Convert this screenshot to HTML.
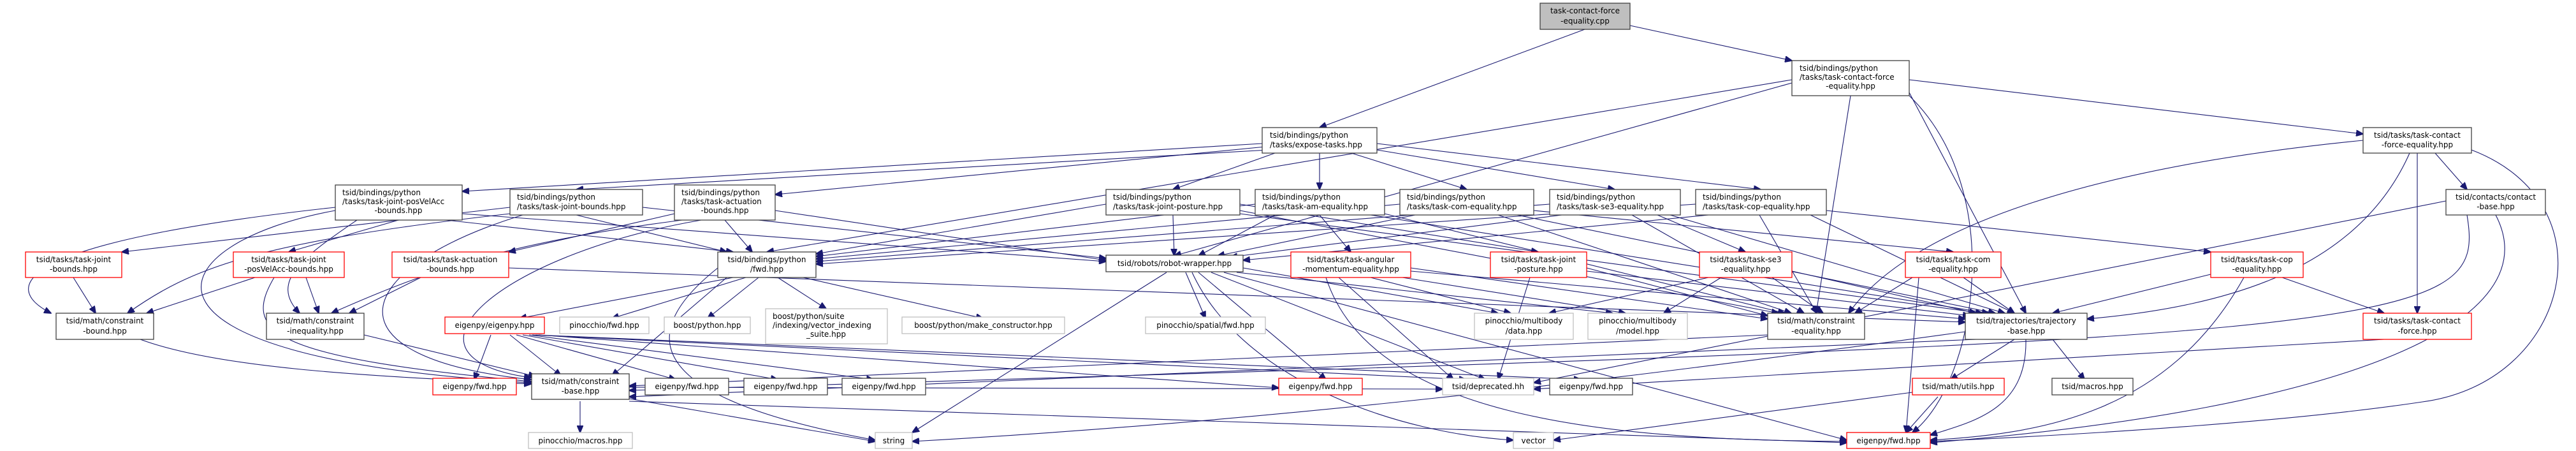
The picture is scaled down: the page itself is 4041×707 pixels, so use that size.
<!DOCTYPE html>
<html><head><meta charset="utf-8"><style>
html,body{margin:0;padding:0;background:#fff;}
svg{display:block;}
text{font-family:"DejaVu Sans","Liberation Sans",sans-serif;font-size:12px;fill:#000;}
.b{fill:#fff;stroke:#404040;stroke-width:1.3;}
.r{fill:#fff;stroke:#ff0000;stroke-width:1.3;}
.g{fill:#fff;stroke:#bfbfbf;stroke-width:1.3;}
.t{fill:#bfbfbf;stroke:#404040;stroke-width:1.3;}
path{fill:none;stroke:#191970;stroke-width:1.1;}
</style></head><body>
<svg width="4041" height="707" viewBox="0 0 4041 707" xmlns="http://www.w3.org/2000/svg">
<defs><marker id="a" markerWidth="12" markerHeight="10" refX="11" refY="5" orient="auto" markerUnits="userSpaceOnUse"><polygon points="0,0 12,5 0,10" fill="#191970" stroke="#191970"/></marker></defs>
<g marker-end="url(#a)">
<path d="M2486,46 L2070,200"/><path d="M2557,40 L2811,95"/>
<path d="M2811,125 L1203,395"/><path d="M2811,130 L1842,401"/><path d="M2995,125 L3707,210"/><path d="M2903,150 L2849,491"/><path d="M2995,145 L3178,491"/><path d="M2995,150 C3150,300 3100,600 3000,678"/>
<path d="M1980,225 L725,300"/><path d="M1990,235 L904,297"/><path d="M1985,230 L1216,305"/><path d="M2000,240 L1840,297"/><path d="M2070,240 L2070,297"/><path d="M2120,240 L2301,297"/><path d="M2160,235 L2533,297"/><path d="M2160,225 L2762,297"/>
<path d="M625,345 L453,395"/><path d="M700,345 L1150,395"/><path d="M725,335 L1735,410"/><path d="M526,325 C20,380 0,450 80,491"/><path d="M560,345 C480,400 420,440 470,491"/><path d="M526,330 C250,380 150,560 833,600"/>
<path d="M800,325 L191,395"/><path d="M904,337 L1140,395"/><path d="M1008,325 L1735,405"/><path d="M800,335 C400,380 300,420 200,491"/><path d="M820,337 C550,420 500,560 833,595"/>
<path d="M1058,335 L798,395"/><path d="M1137,345 L1180,395"/><path d="M1216,330 L1735,408"/><path d="M1070,345 C800,380 680,420 520,491"/><path d="M1100,345 C780,400 600,560 833,592"/>
<path d="M1945,320 L2413,395"/><path d="M1735,320 L1280,398"/><path d="M1840,337 L1842,401"/><path d="M1945,330 L2790,491"/><path d="M1945,335 L3110,491"/>
<path d="M2070,337 L2119,395"/><path d="M1969,320 L1280,402"/><path d="M2000,337 L1880,401"/><path d="M2172,335 L2800,491"/><path d="M2150,337 L3120,491"/>
<path d="M2406,330 L3064,395"/><path d="M2196,320 L1280,406"/><path d="M2220,337 L1910,401"/><path d="M2350,337 L2810,491"/><path d="M2380,337 L3130,491"/>
<path d="M2600,337 L2738,395"/><path d="M2431,320 L1280,410"/><path d="M2450,337 L1930,403"/><path d="M2560,337 L2830,491"/><path d="M2620,337 L3145,491"/>
<path d="M2865,330 L3468,395"/><path d="M2660,320 L1280,414"/><path d="M2680,337 L1950,408"/><path d="M2760,337 L2850,491"/><path d="M2840,337 L3160,491"/>
<path d="M115,435 L150,491"/><path d="M400,435 L230,491"/><path d="M480,435 L500,491"/><path d="M430,435 C380,520 420,560 833,598"/><path d="M660,435 L548,491"/><path d="M798,420 L3083,505"/>
<path d="M220,532 C350,580 600,590 833,602"/><path d="M571,525 L840,590"/><path d="M2773,525 L987,605"/>
<path d="M1150,435 L815,499"/><path d="M1170,435 L960,499"/><path d="M1190,435 L1110,499"/><path d="M1220,435 L1296,484"/><path d="M1260,435 L1542,499"/><path d="M1126,420 C950,560 1100,640 1373,690"/><path d="M1140,435 L960,589"/>
<path d="M770,525 L744,595"/><path d="M810,525 L1060,595"/><path d="M820,525 L1220,595"/><path d="M830,525 L1370,595"/><path d="M840,525 L2480,595"/><path d="M835,525 L2300,595"/><path d="M845,525 L2006,608"/><path d="M800,525 L880,589"/>
<path d="M1860,427 L1891,499"/><path d="M1830,427 L1431,678"/><path d="M1950,420 L2350,491"/><path d="M1940,427 L2530,491"/><path d="M1900,427 L2330,595"/><path d="M1920,427 L2897,690"/><path d="M1880,427 L2080,595"/><path d="M1870,427 C1950,600 2200,680 2374,690"/>
<path d="M2150,435 L2370,491"/><path d="M2200,435 L2550,491"/><path d="M2213,420 L2773,500"/><path d="M2213,425 L3083,500"/><path d="M2100,435 L2280,595"/><path d="M2080,435 C2150,650 2500,690 2897,692"/>
<path d="M2489,420 L2773,495"/><path d="M2489,425 L3090,495"/><path d="M2400,435 L2350,595"/>
<path d="M2680,435 L2430,491"/><path d="M2700,435 L2610,491"/><path d="M2780,435 L2860,491"/><path d="M2811,425 L3100,491"/>
<path d="M3000,435 L2910,491"/><path d="M3080,435 L3160,491"/><path d="M3010,435 L2990,678"/>
<path d="M3468,430 L3220,491"/><path d="M3580,435 L3740,491"/><path d="M3520,435 C3400,650 3200,680 3028,690"/>
<path d="M3820,240 L3870,297"/><path d="M3792,240 L3792,491"/><path d="M3780,240 C3700,420 3500,480 3274,500"/><path d="M3707,220 C3300,260 3000,350 2900,491"/><path d="M3877,235 C4100,320 4030,600 3800,630 C3600,660 3300,680 3028,692"/>
<path d="M3915,337 C4000,500 3700,640 3028,694"/><path d="M3837,315 L2406,600"/><path d="M3870,337 C3900,520 3800,530 987,612"/><path d="M3740,532 L2406,610"/>
<path d="M3160,532 L3060,595"/><path d="M3220,532 L3270,595"/><path d="M3178,532 C3180,640 3100,660 3028,682"/><path d="M3083,520 C2500,600 2000,660 1431,692"/><path d="M3100,532 L987,622"/>
<path d="M3040,622 L2990,678"/><path d="M3000,615 L2437,690"/>
<path d="M910,629 L910,678"/><path d="M987,625 L1373,692"/><path d="M987,629 L2897,694"/><path d="M987,607 L2263,610"/>
</g>

<g>
<rect class="t" x="2416" y="5" width="141" height="41"/><text x="2486.5" y="21" text-anchor="middle">task-contact-force</text><text x="2486.5" y="37" text-anchor="middle">-equality.cpp</text>

<rect class="b" x="2811" y="95" width="184" height="55"/><text x="2823" y="111">tsid/bindings/python</text><text x="2823" y="125">/tasks/task-contact-force</text><text x="2903" y="139" text-anchor="middle">-equality.hpp</text>

<rect class="b" x="1980" y="200" width="180" height="40"/><text x="1992" y="216">tsid/bindings/python</text><text x="1992" y="231">/tasks/expose-tasks.hpp</text>
<rect class="b" x="3707" y="200" width="170" height="40"/><text x="3792" y="216" text-anchor="middle">tsid/tasks/task-contact</text><text x="3792" y="231" text-anchor="middle">-force-equality.hpp</text>

<rect class="b" x="526" y="290" width="199" height="55"/><text x="537" y="306">tsid/bindings/python</text><text x="537" y="320">/tasks/task-joint-posVelAcc</text><text x="625" y="334" text-anchor="middle">-bounds.hpp</text>
<rect class="b" x="1058" y="290" width="158" height="55"/><text x="1069" y="306">tsid/bindings/python</text><text x="1069" y="320">/tasks/task-actuation</text><text x="1137" y="334" text-anchor="middle">-bounds.hpp</text>
<rect class="b" x="800" y="297" width="208" height="40"/><text x="811" y="313">tsid/bindings/python</text><text x="811" y="328">/tasks/task-joint-bounds.hpp</text>
<rect class="b" x="1735" y="297" width="210" height="40"/><text x="1746" y="313">tsid/bindings/python</text><text x="1746" y="328">/tasks/task-joint-posture.hpp</text>
<rect class="b" x="1969" y="297" width="203" height="40"/><text x="1980" y="313">tsid/bindings/python</text><text x="1980" y="328">/tasks/task-am-equality.hpp</text>
<rect class="b" x="2196" y="297" width="210" height="40"/><text x="2207" y="313">tsid/bindings/python</text><text x="2207" y="328">/tasks/task-com-equality.hpp</text>
<rect class="b" x="2431" y="297" width="205" height="40"/><text x="2442" y="313">tsid/bindings/python</text><text x="2442" y="328">/tasks/task-se3-equality.hpp</text>
<rect class="b" x="2660" y="297" width="205" height="40"/><text x="2671" y="313">tsid/bindings/python</text><text x="2671" y="328">/tasks/task-cop-equality.hpp</text>
<rect class="b" x="3837" y="297" width="156" height="40"/><text x="3915" y="313" text-anchor="middle">tsid/contacts/contact</text><text x="3915" y="328" text-anchor="middle">-base.hpp</text>

<rect class="r" x="40" y="395" width="151" height="40"/><text x="115.5" y="411" text-anchor="middle">tsid/tasks/task-joint</text><text x="115.5" y="426" text-anchor="middle">-bounds.hpp</text>
<rect class="r" x="366" y="395" width="174" height="40"/><text x="453" y="411" text-anchor="middle">tsid/tasks/task-joint</text><text x="453" y="426" text-anchor="middle">-posVelAcc-bounds.hpp</text>
<rect class="r" x="615" y="395" width="183" height="40"/><text x="706.5" y="411" text-anchor="middle">tsid/tasks/task-actuation</text><text x="706.5" y="426" text-anchor="middle">-bounds.hpp</text>
<rect class="b" x="1126" y="395" width="154" height="40"/><text x="1203" y="411" text-anchor="middle">tsid/bindings/python</text><text x="1203" y="426" text-anchor="middle">/fwd.hpp</text>
<rect class="b" x="1735" y="400" width="215" height="26"/><text x="1842.5" y="417" text-anchor="middle">tsid/robots/robot-wrapper.hpp</text>
<rect class="r" x="2025" y="395" width="188" height="40"/><text x="2119" y="411" text-anchor="middle">tsid/tasks/task-angular</text><text x="2119" y="426" text-anchor="middle">-momentum-equality.hpp</text>
<rect class="r" x="2338" y="395" width="151" height="40"/><text x="2413.5" y="411" text-anchor="middle">tsid/tasks/task-joint</text><text x="2413.5" y="426" text-anchor="middle">-posture.hpp</text>
<rect class="r" x="2666" y="395" width="145" height="40"/><text x="2738.5" y="411" text-anchor="middle">tsid/tasks/task-se3</text><text x="2738.5" y="426" text-anchor="middle">-equality.hpp</text>
<rect class="r" x="2989" y="395" width="150" height="40"/><text x="3064" y="411" text-anchor="middle">tsid/tasks/task-com</text><text x="3064" y="426" text-anchor="middle">-equality.hpp</text>
<rect class="r" x="3468" y="395" width="145" height="40"/><text x="3540.5" y="411" text-anchor="middle">tsid/tasks/task-cop</text><text x="3540.5" y="426" text-anchor="middle">-equality.hpp</text>

<rect class="b" x="88" y="491" width="153" height="41"/><text x="164.5" y="507" text-anchor="middle">tsid/math/constraint</text><text x="164.5" y="523" text-anchor="middle">-bound.hpp</text>
<rect class="b" x="418" y="491" width="153" height="41"/><text x="494.5" y="507" text-anchor="middle">tsid/math/constraint</text><text x="494.5" y="523" text-anchor="middle">-inequality.hpp</text>
<rect class="r" x="698" y="497" width="156" height="26"/><text x="776" y="514" text-anchor="middle">eigenpy/eigenpy.hpp</text>
<rect class="g" x="878" y="497" width="140" height="26"/><text x="948" y="514" text-anchor="middle">pinocchio/fwd.hpp</text>
<rect class="g" x="1042" y="497" width="135" height="26"/><text x="1109.5" y="514" text-anchor="middle">boost/python.hpp</text>
<rect class="g" x="1201" y="484" width="191" height="55"/><text x="1212" y="500">boost/python/suite</text><text x="1212" y="514">/indexing/vector_indexing</text><text x="1296" y="528" text-anchor="middle">_suite.hpp</text>
<rect class="g" x="1415" y="497" width="255" height="26"/><text x="1542.5" y="514" text-anchor="middle">boost/python/make_constructor.hpp</text>
<rect class="g" x="1797" y="497" width="188" height="26"/><text x="1891" y="514" text-anchor="middle">pinocchio/spatial/fwd.hpp</text>
<rect class="g" x="2313" y="491" width="155" height="41"/><text x="2390.5" y="507" text-anchor="middle">pinocchio/multibody</text><text x="2390.5" y="523" text-anchor="middle">/data.hpp</text>
<rect class="g" x="2491" y="491" width="156" height="41"/><text x="2569" y="507" text-anchor="middle">pinocchio/multibody</text><text x="2569" y="523" text-anchor="middle">/model.hpp</text>
<rect class="b" x="2773" y="491" width="152" height="41"/><text x="2849" y="507" text-anchor="middle">tsid/math/constraint</text><text x="2849" y="523" text-anchor="middle">-equality.hpp</text>
<rect class="b" x="3083" y="491" width="191" height="41"/><text x="3178.5" y="507" text-anchor="middle">tsid/trajectories/trajectory</text><text x="3178.5" y="523" text-anchor="middle">-base.hpp</text>
<rect class="r" x="3707" y="491" width="170" height="41"/><text x="3792" y="507" text-anchor="middle">tsid/tasks/task-contact</text><text x="3792" y="523" text-anchor="middle">-force.hpp</text>

<rect class="r" x="679" y="593" width="131" height="26"/><text x="744.5" y="610" text-anchor="middle">eigenpy/fwd.hpp</text>
<rect class="b" x="834" y="586" width="153" height="40"/><text x="910.5" y="602" text-anchor="middle">tsid/math/constraint</text><text x="910.5" y="617" text-anchor="middle">-base.hpp</text>
<rect class="b" x="1012" y="593" width="131" height="26"/><text x="1077.5" y="610" text-anchor="middle">eigenpy/fwd.hpp</text>
<rect class="b" x="1167" y="593" width="131" height="26"/><text x="1232.5" y="610" text-anchor="middle">eigenpy/fwd.hpp</text>
<rect class="b" x="1321" y="593" width="131" height="26"/><text x="1386.5" y="610" text-anchor="middle">eigenpy/fwd.hpp</text>
<rect class="r" x="2006" y="593" width="131" height="26"/><text x="2071.5" y="610" text-anchor="middle">eigenpy/fwd.hpp</text>
<rect class="g" x="2263" y="593" width="143" height="26"/><text x="2334.5" y="610" text-anchor="middle">tsid/deprecated.hh</text>
<rect class="b" x="2431" y="593" width="130" height="26"/><text x="2496" y="610" text-anchor="middle">eigenpy/fwd.hpp</text>
<rect class="r" x="3000" y="593" width="144" height="26"/><text x="3072" y="610" text-anchor="middle">tsid/math/utils.hpp</text>
<rect class="b" x="3219" y="593" width="127" height="26"/><text x="3282.5" y="610" text-anchor="middle">tsid/macros.hpp</text>

<rect class="g" x="829" y="678" width="163" height="25"/><text x="910.5" y="695" text-anchor="middle">pinocchio/macros.hpp</text>
<rect class="g" x="1373" y="678" width="58" height="25"/><text x="1402" y="695" text-anchor="middle">string</text>
<rect class="g" x="2374" y="678" width="63" height="25"/><text x="2405.5" y="695" text-anchor="middle">vector</text>
<rect class="r" x="2897" y="678" width="131" height="25"/><text x="2962.5" y="695" text-anchor="middle">eigenpy/fwd.hpp</text>
</g>
</svg>
</body></html>
